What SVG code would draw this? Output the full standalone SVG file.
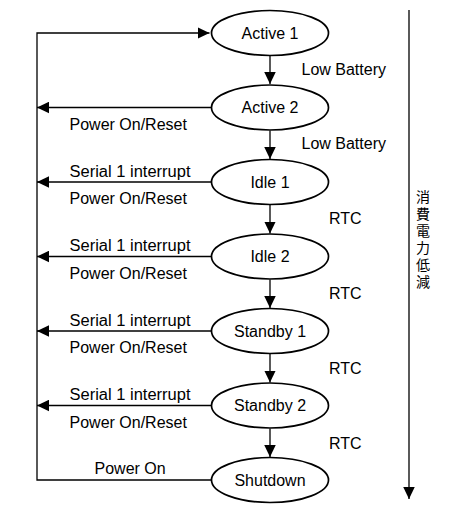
<svg xmlns="http://www.w3.org/2000/svg" width="450" height="514" viewBox="0 0 450 514">
<style>
.node ellipse{fill:#fff;stroke:#000;stroke-width:1.7}
text{font-family:"Liberation Sans",Arial,sans-serif;font-size:16px;fill:#000}
.nt{text-anchor:middle}
.ln{fill:none;stroke:#000;stroke-width:1.3}
.jp{font-family:"Noto Sans CJK JP","Noto Sans CJK SC",sans-serif;font-size:14px;writing-mode:vertical-rl;letter-spacing:3px}
</style>
<defs>
<marker id="ah" markerUnits="userSpaceOnUse" markerWidth="12" markerHeight="12" viewBox="0 0 10 10" refX="10" refY="5" orient="auto">
<path d="M0,0.2 L10,5 L0,9.8 Z" fill="#000"/>
</marker>
</defs>
<g id="connectors">
<polyline class="ln" points="211.5,480 37,480 37,33 209.5,33" marker-end="url(#ah)"/>
<line class="ln" x1="211.5" y1="107.5" x2="37" y2="107.5" marker-end="url(#ah)"/>
<line class="ln" x1="211.5" y1="182" x2="37" y2="182" marker-end="url(#ah)"/>
<line class="ln" x1="211.5" y1="256.5" x2="37" y2="256.5" marker-end="url(#ah)"/>
<line class="ln" x1="211.5" y1="331" x2="37" y2="331" marker-end="url(#ah)"/>
<line class="ln" x1="211.5" y1="405.5" x2="37" y2="405.5" marker-end="url(#ah)"/>
<line class="ln" x1="270" y1="56" x2="270" y2="84" marker-end="url(#ah)"/>
<line class="ln" x1="270" y1="130.5" x2="270" y2="159" marker-end="url(#ah)"/>
<line class="ln" x1="270" y1="205" x2="270" y2="233.5" marker-end="url(#ah)"/>
<line class="ln" x1="270" y1="279.5" x2="270" y2="308" marker-end="url(#ah)"/>
<line class="ln" x1="270" y1="354" x2="270" y2="382.5" marker-end="url(#ah)"/>
<line class="ln" x1="270" y1="428.5" x2="270" y2="457" marker-end="url(#ah)"/>
<line class="ln" x1="409" y1="10" x2="409" y2="499" marker-end="url(#ah)"/>
<text x="301.5" y="75">Low Battery</text>
<text x="301.5" y="149">Low Battery</text>
<text x="329" y="224">RTC</text>
<text x="329" y="298.5">RTC</text>
<text x="329" y="373.5">RTC</text>
<text x="329" y="448.5">RTC</text>
<text x="69.5" y="129.5">Power On/Reset</text>
<text x="69.5" y="176.5" textLength="121" lengthAdjust="spacingAndGlyphs">Serial 1 interrupt</text>
<text x="69.5" y="204">Power On/Reset</text>
<text x="69.5" y="251" textLength="121" lengthAdjust="spacingAndGlyphs">Serial 1 interrupt</text>
<text x="69.5" y="278.5">Power On/Reset</text>
<text x="69.5" y="325.5" textLength="121" lengthAdjust="spacingAndGlyphs">Serial 1 interrupt</text>
<text x="69.5" y="353">Power On/Reset</text>
<text x="69.5" y="400" textLength="121" lengthAdjust="spacingAndGlyphs">Serial 1 interrupt</text>
<text x="69.5" y="427.5">Power On/Reset</text>
<text x="94.5" y="473.5">Power On</text>
</g>
<g id="axis-label">
<text class="jp" x="423" y="190">消費電力低減</text>
</g>
<g id="active1" class="node"><ellipse cx="270" cy="33" rx="58.5" ry="22.5"/><text class="nt" x="270" y="38.5">Active 1</text></g>
<g id="active2" class="node"><ellipse cx="270" cy="107.5" rx="58.5" ry="22.5"/><text class="nt" x="270" y="113">Active 2</text></g>
<g id="idle1" class="node"><ellipse cx="270" cy="182" rx="58.5" ry="22.5"/><text class="nt" x="270" y="187.5">Idle 1</text></g>
<g id="idle2" class="node"><ellipse cx="270" cy="256.5" rx="58.5" ry="22.5"/><text class="nt" x="270" y="262">Idle 2</text></g>
<g id="standby1" class="node"><ellipse cx="270" cy="331" rx="58.5" ry="22.5"/><text class="nt" x="270" y="336.5">Standby 1</text></g>
<g id="standby2" class="node"><ellipse cx="270" cy="405.5" rx="58.5" ry="22.5"/><text class="nt" x="270" y="411">Standby 2</text></g>
<g id="shutdown" class="node"><ellipse cx="270" cy="480" rx="58.5" ry="22.5"/><text class="nt" x="270" y="485.5">Shutdown</text></g>
</svg>
